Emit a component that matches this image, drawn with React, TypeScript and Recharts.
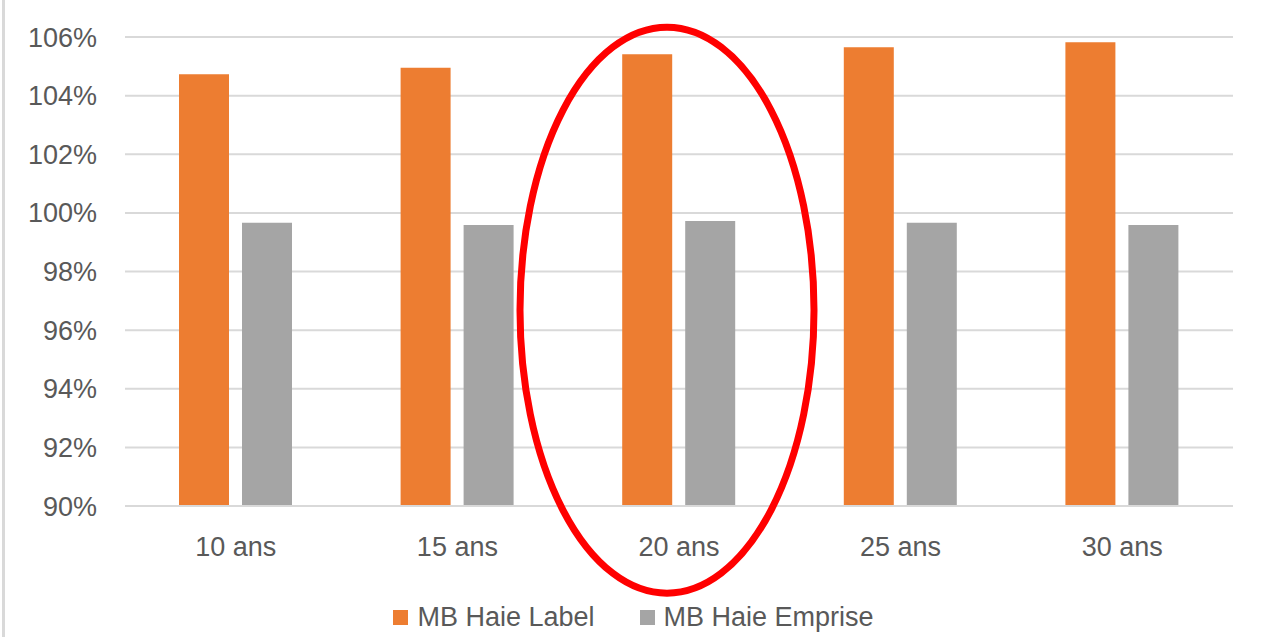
import React from 'react';
import { BarChart, Bar, XAxis, YAxis, CartesianGrid, Legend, ReferenceDot } from 'recharts';

const categories = ['10 ans', '15 ans', '20 ans', '25 ans', '30 ans'];
const labelValues = [104.73, 104.95, 105.41, 105.65, 105.82];
const empriseValues = [99.66, 99.59, 99.72, 99.66, 99.59];
const yTicks = [90, 92, 94, 96, 98, 100, 102, 104, 106];
const seriesNames = ['MB Haie Label', 'MB Haie Emprise'];
const highlightCategory = '20 ans';
const highlightCenterValue = 96.68;

const data = categories.map((c, i) => ({ name: c, label: labelValues[i], emprise: empriseValues[i] }));

const FONT = '"Liberation Sans", Arial, sans-serif';
const TEXT = '#595959';
const COLORS = ['#ED7D31', '#A5A5A5'];

const LegendContent = () => (
  <div style={{ display: 'flex', justifyContent: 'center', alignItems: 'center', fontFamily: FONT, fontSize: 27, color: TEXT, height: 34, paddingLeft: 34 }}>
    {seriesNames.map((n, i) => (
      <div key={n} style={{ display: 'flex', alignItems: 'center', marginRight: i === 0 ? 45 : 0 }}>
        <span style={{ display: 'inline-block', width: 15, height: 15, background: COLORS[i], marginRight: 9 }} />
        <span>{n}</span>
      </div>
    ))}
  </div>
);

const EllipseShape = (props: any) => {
  const { cx, cy } = props;
  if (cx == null || cy == null) return null;
  return <ellipse cx={cx - 12} cy={cy} rx={147} ry={283} fill="none" stroke="#FF0000" strokeWidth={7} />;
};

export default function App() {
  return (
    <div style={{ position: 'absolute', left: 0, top: 0, width: 1269, height: 637, background: '#fff' }}>
      <div style={{ position: 'absolute', left: 2, top: 0, width: 3, height: 637, background: '#d9d9d9' }} />
      <BarChart
        width={1269}
        height={637}
        data={data}
        margin={{ top: 37, right: 36, left: 0, bottom: 3 }}
        barGap={13}
        barSize={50}
      >
        <CartesianGrid vertical={false} stroke="#d9d9d9" strokeWidth={2} />
        <XAxis
          dataKey="name"
          axisLine={{ stroke: '#d9d9d9', strokeWidth: 2 }}
          tickLine={false}
          tickSize={0}
          tickMargin={31}
          height={94}
          tick={{ fill: TEXT, fontSize: 27, fontFamily: FONT }}
        />
        <YAxis
          domain={[90, 106]}
          ticks={yTicks}
          width={125}
          axisLine={false}
          tickLine={false}
          tickSize={0}
          tickMargin={28}
          tickFormatter={(v: number) => `${v}%`}
          tick={{ fill: TEXT, fontSize: 27, fontFamily: FONT }}
          allowDataOverflow
        />
        <Legend verticalAlign="bottom" align="center" content={<LegendContent />} />
        <Bar dataKey="label" name={seriesNames[0]} fill={COLORS[0]} isAnimationActive={false} />
        <Bar dataKey="emprise" name={seriesNames[1]} fill={COLORS[1]} isAnimationActive={false} />
        <ReferenceDot x={highlightCategory} y={highlightCenterValue} ifOverflow="visible" shape={EllipseShape} />
      </BarChart>
    </div>
  );
}
